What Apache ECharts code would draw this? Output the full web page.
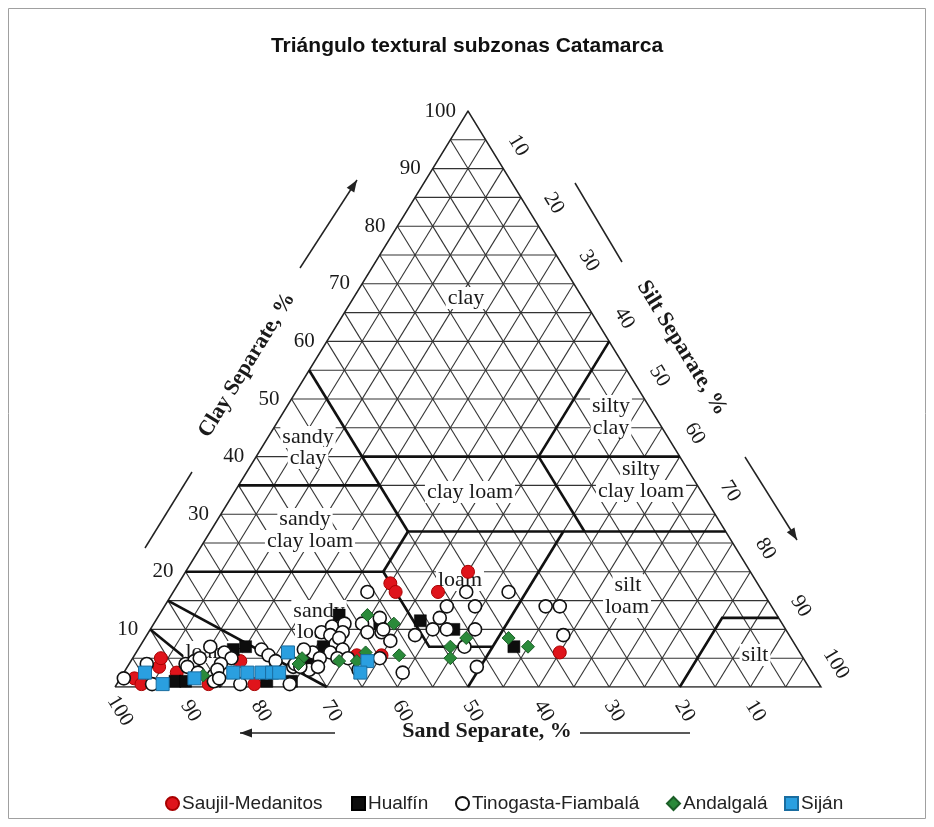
<!DOCTYPE html>
<html><head><meta charset="utf-8">
<script src="https://cdn.jsdelivr.net/npm/echarts@6/dist/echarts.min.js"></script>
<style>html,body{margin:0;padding:0;background:#fff}#c{width:934px;height:827px}</style>
</head><body><div id="c"></div>
<script>
// ---------------- data (sand %, clay %; silt = 100 - sand - clay) ----------------
const seriesNames = ['Saujil-Medanitos', 'Hualfín', 'Tinogasta-Fiambalá', 'Andalgalá', 'Siján'];

const saujilSand = [40, 52, 52, 46, 34, 59.5, 63, 80, 80, 86.5, 96.5, 96, 92, 91, 90];
const saujilClay = [20, 18, 16.5, 16.5, 6, 5.5, 5.5, 4.5, 0.5, 0.5, 1.5, 0.5, 3.5, 5, 2.5];

const hualfinSand = [51, 47, 40, 62, 57, 67, 70, 78, 80, 78, 91, 89.5, 74.5];
const hualfinClay = [11.5, 10, 7, 12.5, 11, 7, 4.5, 7, 6.5, 1, 1, 1, 1];

const tinogastaSand = [42, 42, 46, 36, 32, 30, 48, 50, 48, 44, 53, 32, 47, 47, 57.5, 58,
  56, 59.5, 56.5, 59.5, 57, 57, 66, 64, 62, 65, 63, 65, 64, 66.5, 64.5, 69, 70, 68.5, 66, 64.5, 60, 64, 73, 71, 69.5,
  83, 81.5, 81, 83, 85, 85.5, 76, 75.5, 75, 72.5, 72, 75, 82,
  98, 93.5, 94.5, 88, 86.5, 88, 87, 84, 84.5, 85.5];
const tinogastaClay = [16.5, 14, 14, 16.5, 14, 14, 12, 10, 10, 10, 9, 9, 7, 3.5, 9.5, 2.5,
  16.5, 11, 12, 9.5, 10, 8, 9.5, 10.5, 11, 9, 9.5, 7.5, 8.5, 6, 6.5, 6, 6.5, 5, 5, 5, 5, 3, 3.5, 3, 3.5,
  7, 6, 5, 4, 2, 1, 6.5, 5.5, 4.5, 4, 3.5, 0.5, 0.5,
  1.5, 4, 0.5, 4, 4.5, 3.5, 2.5, 3, 1.5, 5];

const andalgalaSand = [55, 46, 49, 50, 40, 38, 57, 58, 71, 72, 66, 63.5, 61.5, 86.5];
const andalgalaClay = [11, 8.5, 7, 5, 8.5, 7, 5.5, 12.5, 5, 4, 4.5, 4.5, 6, 2];

const sijanSand = [94.5, 93, 88, 82, 80, 78, 76.5, 75.5, 72.5, 62, 64];
const sijanClay = [2.5, 0.5, 1.5, 2.5, 2.5, 2.5, 2.5, 2.5, 6, 4.5, 2.5];

// grid every 5 %, tick labels every 10 %
const gridTicks = [5, 10, 15, 20, 25, 30, 35, 40, 45, 50, 55, 60, 65, 70, 75, 80, 85, 90, 95];
const tickLabels = [10, 20, 30, 40, 50, 60, 70, 80, 90, 100];

// USDA texture class boundaries, as [sand, clay] vertices
const outerTriangle = [[100, 0], [0, 100], [0, 0], [100, 0]];
const classBoundaries = [
  [[45, 55], [45, 27]],
  [[65, 35], [45, 35]],
  [[45, 40], [0, 40]],
  [[20, 40], [0, 60]],
  [[20, 40], [20, 27]],
  [[45, 27], [0, 27]],
  [[80, 20], [52, 20]],
  [[52, 20], [45, 27]],
  [[52, 20], [52, 7], [43, 7]],
  [[23, 27], [50, 0]],
  [[20, 0], [8, 12], [0, 12]],
  [[85, 15], [70, 0]],
  [[90, 10], [85, 0]]
];

// --------------- helpers ----------------
function tern(sand, clay) { const silt = 100 - sand - clay; return [silt + clay / 2, clay]; }
function pts(sand, clay) { return sand.map((s, i) => tern(s, clay[i])); }

const gridLines = [];
gridTicks.forEach(v => {
  gridLines.push([tern(100 - v, v), tern(0, v)]);          // clay = v
  gridLines.push([tern(v, 0), tern(v, 100 - v)]);          // sand = v
  gridLines.push([tern(100 - v, 0), tern(0, 100 - v)]);    // silt = v
});

const serif = '"Liberation Serif","Times New Roman",serif';
const sans = '"Liberation Sans",Arial,sans-serif';

const legendLefts = [160, 346, 450, 661, 779];

const option = {
  animation: false,
  grid: { left: 115, right: 113, top: 111, bottom: 140 },
  xAxis: { type: 'value', min: 0, max: 100, show: false },
  yAxis: { type: 'value', min: 0, max: 100, show: false },
  legend: seriesNames.map((n, i) => ({
    data: [n], left: legendLefts[i], top: 789, selectedMode: false,
    itemWidth: 13, itemHeight: 13, itemGap: 0,
    textStyle: { fontFamily: sans, fontSize: 19, color: '#222', padding: [0, 0, 0, -2] }
  })),
  series: [
    { type: 'lines', coordinateSystem: 'cartesian2d', polyline: true, silent: true, z: 0,
      lineStyle: { color: '#333', width: 1.1, opacity: 1 },
      data: gridLines.map(c => ({ coords: c })) },
    { type: 'lines', coordinateSystem: 'cartesian2d', polyline: true, silent: true, z: 0,
      lineStyle: { color: '#222', width: 1.5, opacity: 1 },
      data: [{ coords: outerTriangle.map(p => tern(p[0], p[1])) }] },
    { type: 'lines', coordinateSystem: 'cartesian2d', polyline: true, silent: true, z: 0,
      lineStyle: { color: '#111', width: 2.6, opacity: 1 },
      data: classBoundaries.map(b => ({ coords: b.map(p => tern(p[0], p[1])) })) },
    { name: seriesNames[0], type: 'scatter', symbol: 'circle', symbolSize: 13, z: 3,
      itemStyle: { color: '#df141b', borderColor: '#a80000', borderWidth: 1, opacity: 1 },
      data: pts(saujilSand, saujilClay) },
    { name: seriesNames[1], type: 'scatter', symbol: 'rect', symbolSize: 12, z: 3,
      itemStyle: { color: '#0d0d0d', borderColor: '#000', borderWidth: 0.5, opacity: 1 },
      data: pts(hualfinSand, hualfinClay) },
    { name: seriesNames[2], type: 'scatter', symbol: 'circle', symbolSize: 13, z: 3,
      itemStyle: { color: '#fff', borderColor: '#111', borderWidth: 1.6, opacity: 1 },
      data: pts(tinogastaSand, tinogastaClay) },
    { name: seriesNames[3], type: 'scatter', symbol: 'diamond', symbolSize: 13, z: 3,
      itemStyle: { color: '#2a8a3a', borderColor: '#1b5e27', borderWidth: 1, opacity: 1 },
      data: pts(andalgalaSand, andalgalaClay) },
    { name: seriesNames[4], type: 'scatter', symbol: 'rect', symbolSize: 13, z: 3,
      itemStyle: { color: '#2a9fe0', borderColor: '#1a6da0', borderWidth: 1, opacity: 1 },
      data: pts(sijanSand, sijanClay) }
  ]
};

const chart = echarts.init(document.getElementById('c'), null, { renderer: 'canvas' });
chart.setOption(option);

const P = (sand, clay) => chart.convertToPixel({ gridIndex: 0 }, tern(sand, clay));
const ROT = 58.5 * Math.PI / 180;

function txt(x, y, text, font, align, rotation, z, extra) {
  return { type: 'text', x: x, y: y, rotation: rotation || 0, z: z == null ? 5 : z, silent: true,
    style: Object.assign({ text: text, font: font, fill: '#1a1a1a', align: align, textAlign: align,
      verticalAlign: 'middle', textVerticalAlign: 'middle' }, extra || {}) };
}
function arrow(x1, y1, x2, y2, head) {
  const els = [{ type: 'line', z: 5, silent: true, shape: { x1: x1, y1: y1, x2: x2, y2: y2 }, style: { stroke: '#222', lineWidth: 1.5 } }];
  if (head) {
    const dx = x2 - x1, dy = y2 - y1, L = Math.hypot(dx, dy), ux = dx / L, uy = dy / L;
    const bx = x2 - ux * 12, by = y2 - uy * 12;
    els.push({ type: 'polygon', z: 5, silent: true, shape: { points: [[x2, y2], [bx - uy * 4.5, by + ux * 4.5], [bx + uy * 4.5, by - ux * 4.5]] }, style: { fill: '#222' } });
  }
  return els;
}

const g = [];
g.push({ type: 'rect', z: -1, silent: true, shape: { x: 8.5, y: 8.5, width: 917, height: 810 }, style: { fill: 'none', stroke: '#a0a0a0', lineWidth: 1 } });
g.push(txt(467, 46, 'Triángulo textural subzonas Catamarca', 'bold 21px ' + sans, 'center', 0, 5, { fill: '#111' }));

const tickFont = '21px ' + serif;
tickLabels.forEach(v => { const p = P(100 - v, v); g.push(txt(p[0] - 12, p[1], String(v), tickFont, 'right')); });
tickLabels.forEach(v => { const p = P(0, 100 - v); g.push(txt(p[0] + 15, p[1] - 23, String(v), tickFont, 'center', -ROT)); });
tickLabels.forEach(v => { const p = P(v, 0); g.push(txt(p[0] + 5, p[1] + 24, String(v), tickFont, 'center', -ROT)); });

const titleFont = 'bold 22px ' + serif;
g.push(txt(247, 365, 'Clay Separate, %', titleFont, 'center', ROT));
g.push(txt(682, 348, 'Silt Separate, %', titleFont, 'center', -ROT));
g.push(txt(487, 731, 'Sand Separate, %', titleFont, 'center', 0));

arrow(300, 268, 357, 180, true).forEach(e => g.push(e));
arrow(192, 472, 145, 548, false).forEach(e => g.push(e));
arrow(575, 183, 622, 262, false).forEach(e => g.push(e));
arrow(745, 457, 797, 540, true).forEach(e => g.push(e));
arrow(335, 733, 240, 733, true).forEach(e => g.push(e));
arrow(580, 733, 690, 733, false).forEach(e => g.push(e));

const regFont = '22px ' + serif;
const bg = { backgroundColor: '#fff', padding: [0, 2, 0, 2] };
[
  ['clay', 466, 298], ['sandy', 308, 437], ['clay', 308, 458],
  ['silty', 611, 406], ['clay', 611, 428], ['clay loam', 470, 492],
  ['silty', 641, 469], ['clay loam', 641, 491], ['sandy', 305, 519], ['clay loam', 310, 541],
  ['loam', 460, 580], ['sandy', 319, 611], ['loam', 319, 632],
  ['silt', 628, 585], ['loam', 627, 607], ['silt', 755, 655], ['loamy', 213, 652]
].forEach(r => g.push(txt(r[1], r[2], r[0], regFont, 'center', 0, 1, bg)));

chart.setOption({ graphic: { elements: g } });
</script>
</body></html>
